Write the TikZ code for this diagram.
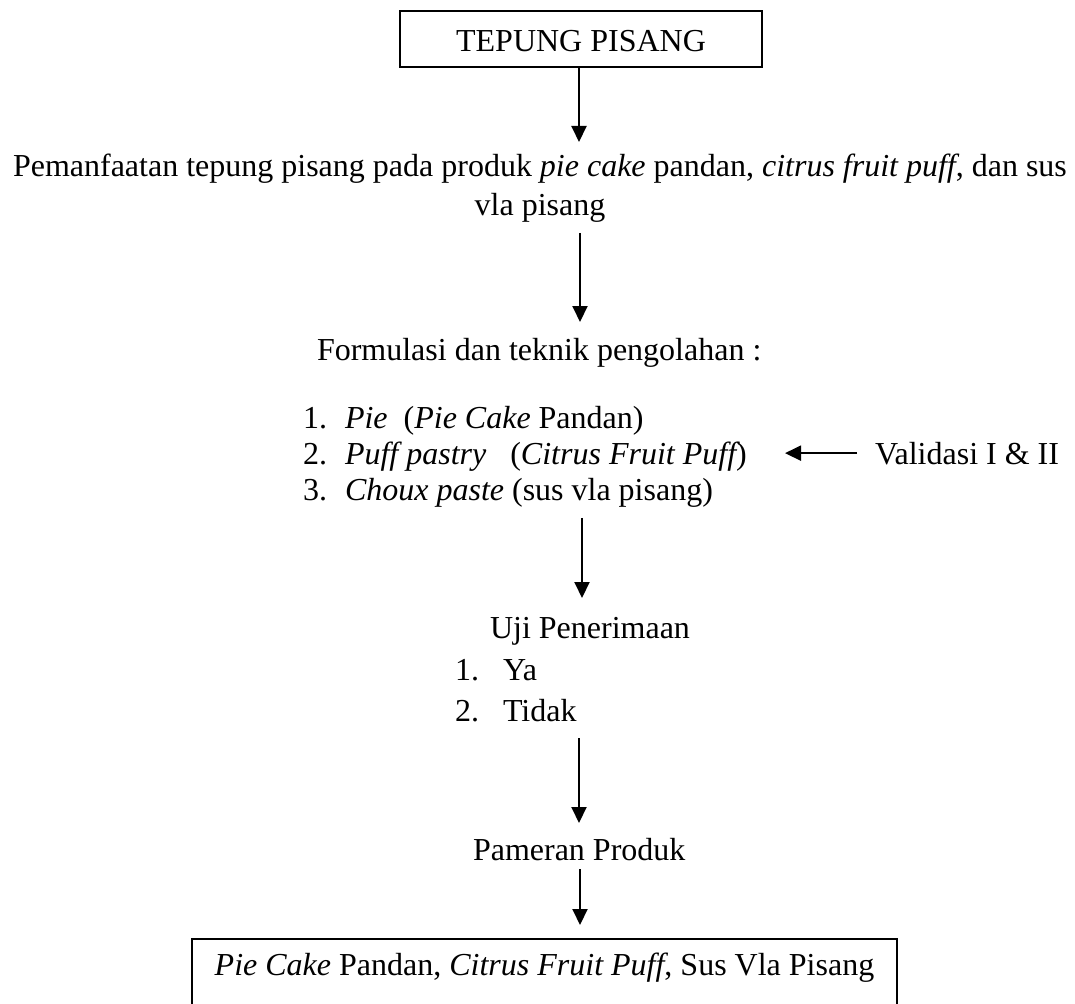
\documentclass[tikz,border=0pt]{standalone}
\usepackage{fontspec}
\setmainfont{Liberation Serif}
\usetikzlibrary{arrows.meta}
\begin{document}
\begin{tikzpicture}[x=1pt,y=-1pt,
  every node/.style={font=\fontsize{32}{37}\selectfont, inner sep=0pt, outer sep=0pt},
  txt/.style={anchor=base west},
  ctxt/.style={anchor=base},
  boxed/.style={draw, line width=2pt},
  arr/.style={line width=2pt, -{Triangle[length=16pt,width=15pt]}}]
\useasboundingbox (0,0) rectangle (1075,1003);

% top box
\node[boxed, minimum width=362pt, minimum height=56pt, text height=25pt, text depth=0pt] (top) at (581,39) {TEPUNG PISANG};

% paragraph
\node[txt] (p1) at (13,177) {Pemanfaatan tepung pisang pada produk {\itshape pie cake} pandan, {\itshape citrus fruit puff}, dan sus};
\node[ctxt] (p2) at (540,215) {vla pisang};

% formulasi
\node[txt] (f) at (317,360) {Formulasi dan teknik pengolahan :};
\node[txt] (i1) at (303,428) {\makebox[42pt][l]{1.}{\itshape Pie}\ \ ({\itshape Pie Cake} Pandan)};
\node[txt] (i2) at (303,464) {\makebox[42pt][l]{2.}{\itshape Puff pastry}\ \ \ ({\itshape Citrus Fruit Puff})};
\node[txt] (i3) at (303,500) {\makebox[42pt][l]{3.}{\itshape Choux paste} (sus vla pisang)};
\node[txt] (val) at (875,464) {Validasi I \& II};

% uji
\node[txt] (u) at (490,638) {Uji Penerimaan};
\node[txt] (u1) at (455,680) {\makebox[48pt][l]{1.}Ya};
\node[txt] (u2) at (455,721) {\makebox[48pt][l]{2.}Tidak};

% pameran
\node[txt] (pm) at (473,860) {Pameran Produk};

% bottom box
\node[boxed, anchor=north west, minimum width=705pt, inner ysep=14pt, text height=22pt, text depth=60pt] (bot) at (192,939) {{\itshape Pie Cake} Pandan, {\itshape Citrus Fruit Puff}, Sus Vla Pisang};

% arrow tips
\coordinate (t1) at (579,142);
\coordinate (t2) at (580,322);
\coordinate (t3) at (582,598);
\coordinate (t4) at (579,823);
\coordinate (t5) at (580,925);
\coordinate (tv) at (785,453);

\draw[arr] (top.south -| t1) -- (t1);
\draw[arr, shorten <=11pt] (p2.south -| t2) -- (t2);
\draw[arr, shorten <=11pt] (i3.south -| t3) -- (t3);
\draw[arr, shorten <=17pt] (u2.south -| t4) -- (t4);
\draw[arr, shorten <=9pt, shorten >=14pt] (pm.south -| t5) -- (bot.north -| t5);
\draw[arr, shorten <=18pt] (val.west) -- (val.west -| tv);
\end{tikzpicture}
\end{document}
